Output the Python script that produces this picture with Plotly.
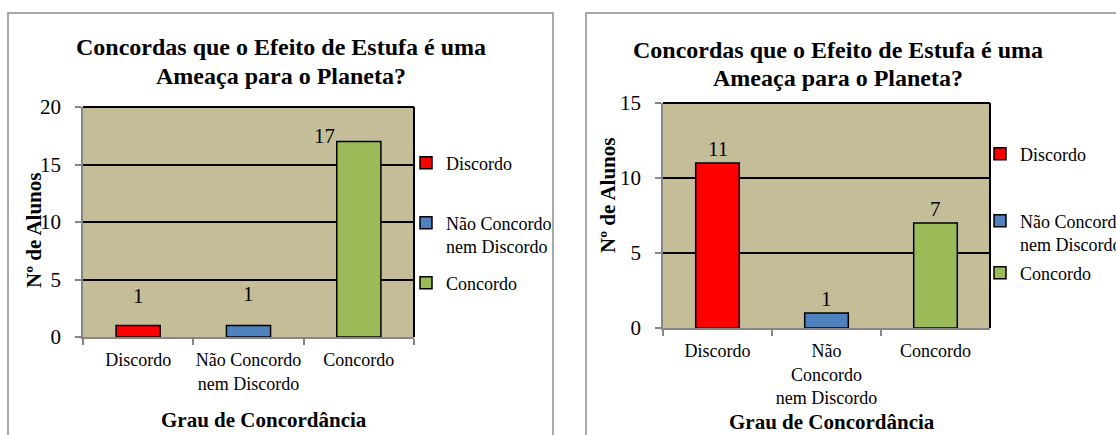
import plotly.graph_objects as go

# ---- data -------------------------------------------------------------
categories = ["Discordo", "Não Concordo nem Discordo", "Concordo"]
legend_names = ["Discordo", "Não Concordo<br>nem Discordo", "Concordo"]
tick_labels_a = ["Discordo", "Não Concordo<br>nem Discordo", "Concordo"]
tick_labels_b = ["Discordo", "Não<br>Concordo<br>nem Discordo", "Concordo"]
values_a = [1, 1, 17]
values_b = [11, 1, 7]
yticks_a = [0, 5, 10, 15, 20]
yticks_b = [0, 5, 10, 15]

title_lines = ["Concordas que o Efeito de Estufa é uma", "Ameaça para o Planeta?"]
ytitle_text = "Nº de Alunos"
xtitle_text = "Grau de Concordância"

# ---- style ------------------------------------------------------------
W, H = 1116, 435
bar_colors = ["#FF0000", "#4F81BD", "#9BBB59"]
plot_bg = "#C4BD97"
axis_gray = "#868686"
FONT = "Liberation Serif, Times New Roman, serif"


def px_x(v):
    return v / W


def px_y(v):
    return 1 - v / H


fig = go.Figure()

panels = [
    dict(xa="x", ya="y", vals=values_a, legends=["legend", "legend2", "legend3"]),
    dict(xa="x2", ya="y2", vals=values_b, legends=["legend4", "legend5", "legend6"]),
]

for p in panels:
    for i, cat in enumerate(categories):
        fig.add_trace(go.Bar(
            x=[cat], y=[p["vals"][i]], name=legend_names[i],
            xaxis=p["xa"], yaxis=p["ya"], width=0.4,
            marker=dict(color=bar_colors[i], line=dict(color="black", width=1.5)),
            legend=p["legends"][i], showlegend=True, hoverinfo="skip",
        ))

# value labels: (x shift, y shift) per bar, in pixels
label_shift_a = [(0, 16), (0, 18), (-34, -8)]
label_shift_b = [(0, 0), (0, 0), (0, 0)]
annotations = []
for vals, shifts, xr, yr in [(values_a, label_shift_a, "x", "y"),
                             (values_b, label_shift_b, "x2", "y2")]:
    for cat, v, (dx, dy) in zip(categories, vals, shifts):
        annotations.append(dict(
            x=cat, y=v, xref=xr, yref=yr, text=str(v), showarrow=False,
            yanchor="bottom", xshift=dx, yshift=dy,
            font=dict(family=FONT, size=21, color="black"),
        ))

# chart titles, one annotation per line: (centre x, line centre ys)
for cx, ys in [(281, (47, 76)), (838, (50, 78))]:
    for line, cy in zip(title_lines, ys):
        annotations.append(dict(
            x=px_x(cx), y=px_y(cy), xref="paper", yref="paper", text="<b>" + line + "</b>",
            showarrow=False, xanchor="center", yanchor="middle",
            font=dict(family=FONT, size=24, color="black"),
        ))
for cx, cy in [(34, 231), (608, 196)]:
    annotations.append(dict(
        x=px_x(cx), y=px_y(cy), xref="paper", yref="paper", text="<b>" + ytitle_text + "</b>",
        showarrow=False, textangle=-90, xanchor="center", yanchor="middle",
        font=dict(family=FONT, size=21, color="black"),
    ))
for cx, cy in [(264, 420), (832, 422)]:
    annotations.append(dict(
        x=px_x(cx), y=px_y(cy), xref="paper", yref="paper", text="<b>" + xtitle_text + "</b>",
        showarrow=False, xanchor="center", yanchor="middle",
        font=dict(family=FONT, size=21, color="black"),
    ))

shapes = []
# chart frames
shapes.append(dict(type="rect", xref="paper", yref="paper", x0=px_x(8), x1=px_x(553),
                   y0=px_y(445), y1=px_y(13), line=dict(color="#8C8C8C", width=1.5)))
shapes.append(dict(type="rect", xref="paper", yref="paper", x0=px_x(586), x1=px_x(1130),
                   y0=px_y(445), y1=px_y(13), line=dict(color="#8C8C8C", width=1.5)))
# top and right edges of plot areas
for xr, yr in [("x", "y"), ("x2", "y2")]:
    shapes.append(dict(type="line", xref=xr + " domain", yref=yr + " domain",
                       x0=0, x1=1, y0=1, y1=1, line=dict(color="black", width=2)))
    shapes.append(dict(type="line", xref=xr + " domain", yref=yr + " domain",
                       x0=1, x1=1, y0=0, y1=1, line=dict(color="black", width=2)))

xaxis_common = dict(
    type="category", range=[-0.5, 2.5], tickmode="array", tickvals=categories,
    tickson="boundaries", ticks="outside", ticklen=6, tickcolor=axis_gray, tickwidth=1.5,
    showline=True, linecolor=axis_gray, linewidth=1.5, showgrid=False, zeroline=False,
    tickangle=0, automargin=False, ticklabelstandoff=6,
    tickfont=dict(family=FONT, size=18, color="black"), fixedrange=True,
)
yaxis_common = dict(
    tickmode="array", ticks="outside", ticklen=6, tickcolor=axis_gray, tickwidth=1.5,
    showline=True, linecolor=axis_gray, linewidth=1.5, showgrid=True, gridcolor="black",
    gridwidth=1.5, zeroline=False, ticklabelstandoff=10, automargin=False,
    tickfont=dict(family=FONT, size=21, color="black"), fixedrange=True,
)

legend_common = dict(
    xanchor="left", bgcolor="rgba(0,0,0,0)", borderwidth=0, valign="top",
    font=dict(family=FONT, size=18, color="black"), itemwidth=30,
    itemclick=False, itemdoubleclick=False,
)
# legend slot positions: (left x, centre y) in pixels
legend_slots = {
    "legend": (406, 163), "legend2": (406, 234.5), "legend3": (406, 283),
    "legend4": (980, 154), "legend5": (980, 232.5), "legend6": (980, 273),
}
legend_layout = {}
for key, (lx, ly) in legend_slots.items():
    legend_layout[key] = dict(legend_common, x=px_x(lx), y=px_y(ly), yanchor="middle")

fig.update_layout(
    width=W, height=H, margin=dict(l=0, r=0, t=0, b=0, autoexpand=False),
    paper_bgcolor="white", plot_bgcolor=plot_bg, barmode="overlay",
    xaxis=dict(xaxis_common, domain=[px_x(83), px_x(414)], ticktext=tick_labels_a, anchor="y"),
    yaxis=dict(yaxis_common, domain=[px_y(337), px_y(107)], range=[0, 20], tickvals=yticks_a, anchor="x"),
    xaxis2=dict(xaxis_common, domain=[px_x(663), px_x(990)], ticktext=tick_labels_b, anchor="y2"),
    yaxis2=dict(yaxis_common, domain=[px_y(328), px_y(103)], range=[0, 15], tickvals=yticks_b, anchor="x2"),
    annotations=annotations, shapes=shapes,
    **legend_layout,
)

fig.write_html("out.html")
